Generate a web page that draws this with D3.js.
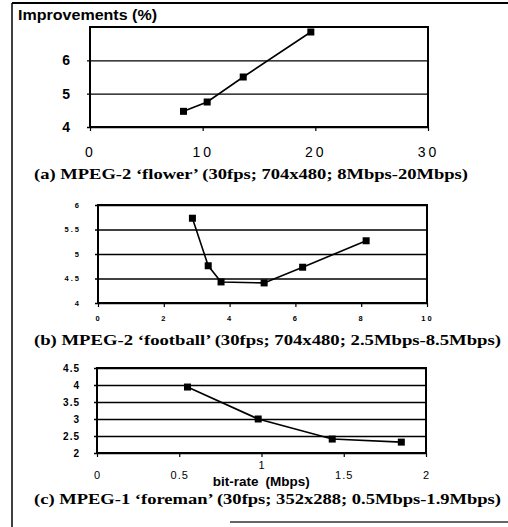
<!DOCTYPE html>
<html>
<head>
<meta charset="utf-8">
<script src="https://cdn.jsdelivr.net/npm/d3@7/dist/d3.min.js"></script>
<style>
  body { margin: 0; background: #fff; }
  svg { display: block; }
  .tick line { stroke: #000; }
  .domain { display: none; }
</style>
</head>
<body>
<svg id="fig" width="508" height="527"></svg>
<script>
// values (bit-rate in Mbps, improvement in %)
var flowerRate = [8.3, 10.4, 13.6, 19.6];
var flowerImp  = [4.47, 4.75, 5.5, 6.85];
var footballRate = [2.87, 3.35, 3.74, 5.05, 6.22, 8.15];
var footballImp  = [5.73, 4.76, 4.43, 4.41, 4.73, 5.27];
var foremanRate = [0.55, 0.98, 1.43, 1.85];
var foremanImp  = [3.94, 3.0, 2.41, 2.32];

var flowerXTicks = [0, 10, 20, 30], flowerYTicks = [4, 5, 6];
var footballXTicks = [0, 2, 4, 6, 8, 10], footballYTicks = [4, 4.5, 5, 5.5, 6];
var foremanXTicks = [0, 0.5, 1, 1.5, 2], foremanYTicks = [2, 2.5, 3, 3.5, 4, 4.5];

var captions = [
  "(a) MPEG-2 \u2018flower\u2019 (30fps; 704x480; 8Mbps-20Mbps)",
  "(b) MPEG-2 \u2018football\u2019 (30fps; 704x480; 2.5Mbps-8.5Mbps)",
  "(c) MPEG-1 \u2018foreman\u2019 (30fps; 352x288; 0.5Mbps-1.9Mbps)"
];

var svg = d3.select("#fig");

// outer frame (top and left only, plus short bottom rule)
svg.append("line").attr("x1", 12).attr("x2", 508).attr("y1", 3).attr("y2", 3)
  .attr("stroke", "#000").attr("stroke-width", 2);
svg.append("line").attr("x1", 12).attr("x2", 12).attr("y1", 3).attr("y2", 527)
  .attr("stroke", "#000").attr("stroke-width", 1.5);
svg.append("line").attr("x1", 230).attr("x2", 508).attr("y1", 522).attr("y2", 522)
  .attr("stroke", "#333").attr("stroke-width", 1.5);

svg.append("text").attr("x", 18).attr("y", 20)
  .attr("font-family", "Liberation Sans, Arial, sans-serif")
  .attr("font-weight", "bold").attr("font-size", 15)
  .attr("textLength", 139).attr("lengthAdjust", "spacingAndGlyphs")
  .text("Improvements (%)");

function panel(cfg) {
  var x = d3.scaleLinear().domain(cfg.xDom).range([cfg.left, cfg.right]);
  var y = d3.scaleLinear().domain(cfg.yDom).range([cfg.bottom, cfg.top]);
  var g = svg.append("g");

  // horizontal grid + y labels
  var ya = g.append("g").attr("transform", "translate(" + cfg.left + ",0)")
    .call(d3.axisLeft(y).tickValues(cfg.yTicks).tickSize(-(cfg.right - cfg.left))
      .tickPadding(cfg.yPad).tickFormat(cfg.yFmt));
  ya.selectAll(".tick line").attr("stroke-width", 1.4).attr("x1", -3);
  ya.selectAll(".tick text").attr("fill", "#000")
    .attr("font-family", "Liberation Sans, Arial, sans-serif")
    .attr("font-weight", "bold").attr("font-size", cfg.yFont)
    .attr("letter-spacing", cfg.yLs || 0);

  // x axis ticks and labels
  var xa = g.append("g").attr("transform", "translate(0," + cfg.bottom + ")")
    .call(d3.axisBottom(x).tickValues(cfg.xTicks).tickSize(4)
      .tickPadding(cfg.xPad).tickFormat(cfg.xFmt));
  xa.selectAll(".tick line").attr("stroke-width", 1.2);
  xa.selectAll(".tick text").attr("fill", "#000")
    .attr("font-family", "Liberation Sans, Arial, sans-serif")
    .attr("font-weight", cfg.xWeight || "normal").attr("font-size", cfg.xFont)
    .attr("letter-spacing", cfg.xLs || 0);

  // plot frame
  g.append("rect").attr("x", cfg.left).attr("y", cfg.top)
    .attr("width", cfg.right - cfg.left).attr("height", cfg.bottom - cfg.top)
    .attr("fill", "none").attr("stroke", "#000").attr("stroke-width", 2);

  var pts = cfg.xs.map(function(d, i) { return [d, cfg.ys[i]]; });
  g.append("path").datum(pts)
    .attr("d", d3.line().x(function(d) { return x(d[0]); }).y(function(d) { return y(d[1]); }))
    .attr("fill", "none").attr("stroke", "#000").attr("stroke-width", 1.6);
  g.selectAll("rect.m").data(pts).enter().append("rect").attr("class", "m")
    .attr("x", function(d) { return x(d[0]) - 3.5; })
    .attr("y", function(d) { return y(d[1]) - 3.5; })
    .attr("width", 7).attr("height", 7).attr("fill", "#000");

  svg.append("text").attr("x", 34).attr("y", cfg.capY)
    .attr("font-family", "Liberation Serif, Times New Roman, serif")
    .attr("font-weight", "bold").attr("font-size", 15.5)
    .attr("textLength", cfg.capW).attr("lengthAdjust", "spacingAndGlyphs")
    .text(cfg.caption);
  return { x: x, y: y, xa: xa };
}

panel({
  xDom: [0, 30], yDom: [4, 7], left: 90, right: 428, top: 27, bottom: 127,
  xs: flowerRate, ys: flowerImp, xTicks: flowerXTicks, yTicks: flowerYTicks,
  yPad: 20, yFont: 14, xPad: 16, xFont: 14, xLs: 3,
  xFmt: d3.format("d"), yFmt: d3.format("d"),
  caption: captions[0], capY: 179, capW: 434
});

panel({
  xDom: [0, 10], yDom: [4, 6], left: 98, right: 427, top: 205, bottom: 303,
  xs: footballRate, ys: footballImp, xTicks: footballXTicks, yTicks: footballYTicks,
  yPad: 17, yFont: 7.5, yLs: 2, xPad: 9, xFont: 7.5, xWeight: "bold", xLs: 2,
  xFmt: d3.format("d"), yFmt: function(d) { return d % 1 ? d.toFixed(1) : d; },
  caption: captions[1], capY: 345, capW: 467
});

var c = panel({
  xDom: [0, 2], yDom: [2, 4.5], left: 97, right: 426, top: 368, bottom: 453,
  xs: foremanRate, ys: foremanImp, xTicks: foremanXTicks, yTicks: foremanYTicks,
  yPad: 17, yFont: 10, yLs: 1, xPad: 14, xFont: 11, xLs: 1,
  xFmt: function(d) { return d % 1 ? d.toFixed(1) : d; },
  yFmt: function(d) { return d % 1 ? d.toFixed(1) : d; },
  caption: captions[2], capY: 504, capW: 467
});
// the "1" label sits raised between "bit-rate" and "(Mbps)"
c.xa.selectAll(".tick text").filter(function(d) { return d === 1; }).attr("y", 8);

svg.append("text").attr("x", c.x(1) - 3).attr("y", 486).attr("text-anchor", "end")
  .attr("font-family", "Liberation Sans, Arial, sans-serif")
  .attr("font-weight", "bold").attr("font-size", 13.5).text("bit-rate");
svg.append("text").attr("x", c.x(1) + 4).attr("y", 486)
  .attr("font-family", "Liberation Sans, Arial, sans-serif")
  .attr("font-weight", "bold").attr("font-size", 13.5).text("(Mbps)");
</script>
</body>
</html>
